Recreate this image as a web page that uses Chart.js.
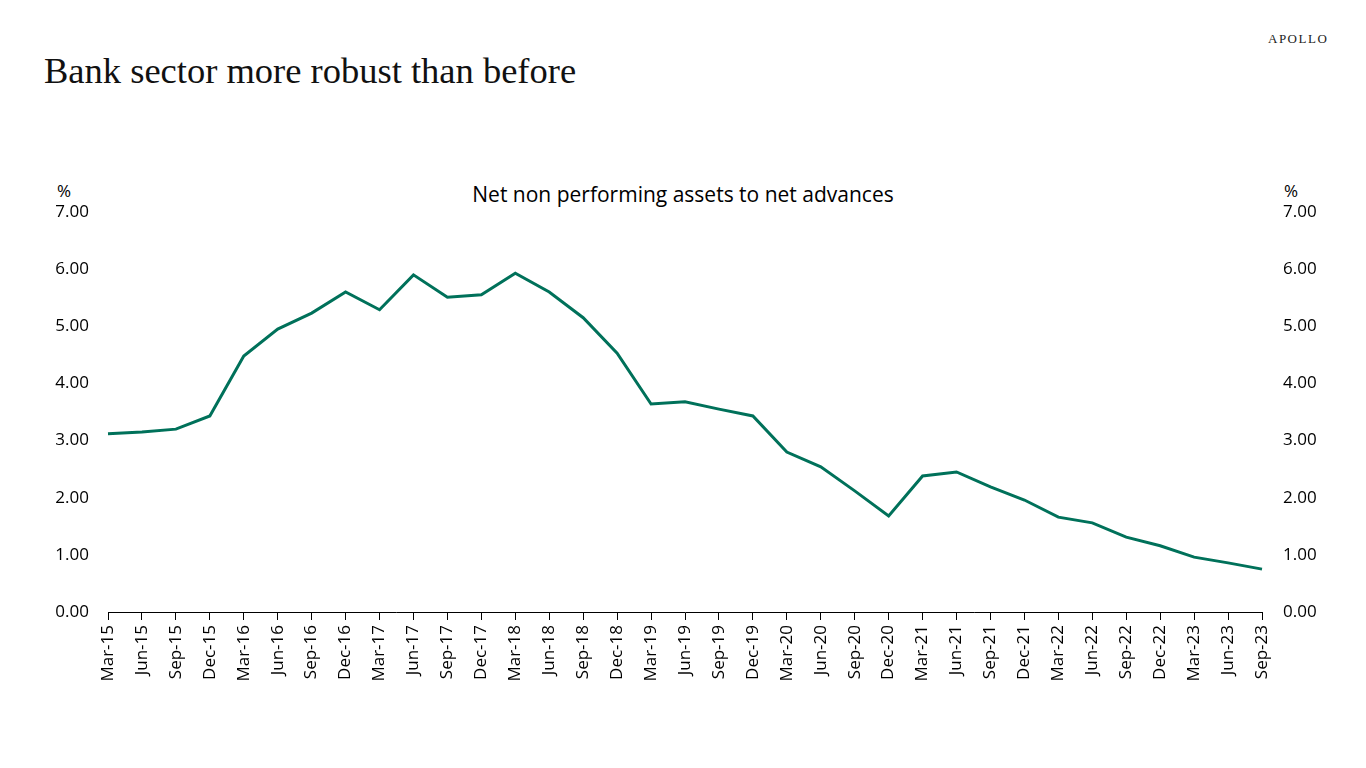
<!DOCTYPE html>
<html>
<head>
<meta charset="utf-8">
<script src="https://cdn.jsdelivr.net/npm/chart.js@4/dist/chart.umd.min.js"></script>
<style>
    html, body { margin: 0; padding: 0; background: #fff; }
    body { width: 1366px; height: 768px; position: relative; overflow: hidden; }
    #wrap { position: absolute; left: 0; top: 0; width: 1366px; height: 768px; }
    .title { position: absolute; left: 44px; top: 49px; font-family: "Liberation Serif", serif; font-size: 36.5px; color: #111; }
    .logo { position: absolute; left: 1268px; top: 31px; font-family: "Liberation Serif", serif; font-size: 13px; letter-spacing: 1.5px; color: #222; }
    .sub { position: absolute; left: 0; width: 1366px; top: 180px; text-align: center; font-family: "Open Sans", sans-serif; font-size: 21px; color: #000; }
    .pct { position: absolute; top: 179px; font-family: "Open Sans", sans-serif; font-size: 17px; color: #000; }
</style>
</head>
<body>
<div class="title">Bank sector more robust than before</div>
<div class="logo">APOLLO</div>
<div class="sub">Net non performing assets to net advances</div>
<div class="pct" style="left:57px">%</div>
<div class="pct" style="left:1284px">%</div>
<div id="wrap"><canvas id="chart"></canvas></div>
<script>
const quarters = ['Mar-15','Jun-15','Sep-15','Dec-15','Mar-16','Jun-16','Sep-16','Dec-16','Mar-17','Jun-17','Sep-17','Dec-17',
    'Mar-18','Jun-18','Sep-18','Dec-18','Mar-19','Jun-19','Sep-19','Dec-19','Mar-20','Jun-20','Sep-20','Dec-20',
    'Mar-21','Jun-21','Sep-21','Dec-21','Mar-22','Jun-22','Sep-22','Dec-22','Mar-23','Jun-23','Sep-23'];
const netNpa = [3.12, 3.15, 3.20, 3.43, 4.48, 4.95, 5.23, 5.60, 5.29, 5.90, 5.51, 5.55,
    5.93, 5.60, 5.15, 4.53, 3.64, 3.68, 3.55, 3.43, 2.80, 2.54, 2.12, 1.68,
    2.38, 2.45, 2.19, 1.96, 1.66, 1.56, 1.31, 1.16, 0.96, 0.86, 0.75];
const yTicks = [0, 1, 2, 3, 4, 5, 6, 7];

const tickFont = { family: '"Open Sans", sans-serif', size: 17 };

const ctx = document.getElementById('chart').getContext('2d');
new Chart(ctx, {
    type: 'line',
    data: {
        labels: quarters,
        datasets: [{
            data: netNpa,
            borderColor: '#00715a',
            borderWidth: 3,
            pointRadius: 0,
            tension: 0,
            fill: false,
            yAxisID: 'y'
        }]
    },
    options: {
        responsive: true,
        maintainAspectRatio: false,
        animation: false,
        layout: { padding: { top: 212, left: 0, right: 0, bottom: 0 } },
        plugins: { legend: { display: false }, tooltip: { enabled: false } },
        scales: {
            x: {
                offset: false,
                grid: { drawOnChartArea: false, drawTicks: true, tickLength: 8, color: '#000', lineWidth: 1 },
                border: { display: true, color: '#000', width: 1 },
                ticks: { color: '#000', font: { family: '"Open Sans", sans-serif', size: 17 }, maxRotation: 90, minRotation: 90, autoSkip: false, padding: 5 },
                afterFit: (scale) => { scale.height = 156; }
            },
            y: {
                position: 'left',
                min: 0, max: 7,
                grid: { display: false },
                border: { display: false },
                afterBuildTicks: (scale) => { scale.ticks = yTicks.map(v => ({ value: v })); },
                ticks: { color: '#000', font: tickFont, padding: 11, callback: (v) => v.toFixed(2) },
                afterFit: (scale) => { scale.width = 108; }
            },
            y2: {
                position: 'right',
                min: 0, max: 7,
                grid: { display: false },
                border: { display: false },
                afterBuildTicks: (scale) => { scale.ticks = yTicks.map(v => ({ value: v })); },
                ticks: { color: '#000', font: tickFont, padding: 13, callback: (v) => v.toFixed(2) },
                afterFit: (scale) => { scale.width = 104; }
            }
        }
    }
});
</script>
</body>
</html>
